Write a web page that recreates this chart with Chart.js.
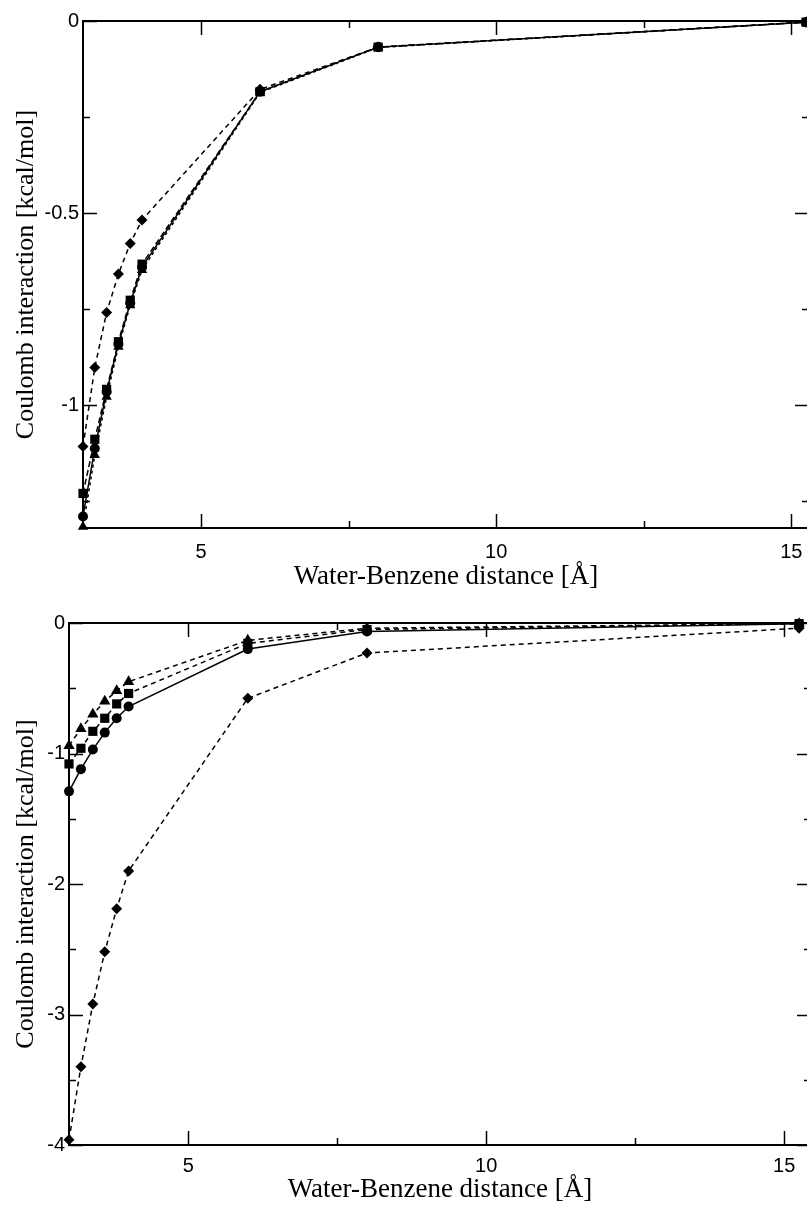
<!DOCTYPE html>
<html>
<head>
<meta charset="utf-8">
<script src="https://cdn.jsdelivr.net/npm/chart.js@4.4.1/dist/chart.umd.min.js"></script>
<style>
  html, body { margin: 0; padding: 0; background: #fff; overflow: hidden; }
  .panel { position: absolute; left: 0; }
</style>
</head>
<body>
<canvas id="topChart" class="panel" width="820" height="600" style="top:0"></canvas>
<canvas id="bottomChart" class="panel" width="820" height="607" style="top:600px"></canvas>
<script>
// water-benzene separation (Å)
const distance = [3.0, 3.2, 3.4, 3.6, 3.8, 4.0, 6, 8, 15.25];

// upper panel: Coulomb interaction (kcal/mol)
const topCircles   = [-1.290, -1.113, -0.965, -0.841, -0.735, -0.641, -0.184, -0.068, -0.003];
const topSquares   = [-1.230, -1.089, -0.959, -0.835, -0.727, -0.633, -0.184, -0.068, -0.003];
const topTriangles = [-1.317, -1.130, -0.978, -0.848, -0.740, -0.648, -0.186, -0.069, -0.003];
const topDiamonds  = [-1.108, -0.902, -0.759, -0.659, -0.579, -0.518, -0.178, -0.068, -0.003];

// lower panel
const botCircles   = [-1.29, -1.12, -0.97, -0.84, -0.73, -0.64, -0.20, -0.065, -0.005];
const botSquares   = [-1.08, -0.96, -0.83, -0.73, -0.62, -0.54, -0.156, -0.05, -0.005];
const botTriangles = [-0.94, -0.81, -0.70, -0.60, -0.52, -0.45, -0.133, -0.04, -0.005];
const botDiamonds  = [-3.96, -3.40, -2.92, -2.52, -2.19, -1.90, -0.577, -0.23, -0.04];

// tick marks
const xMajor = [5, 10, 15];
const xMinor = [7.5, 12.5];
const topYMajor = [0, -0.5, -1];
const topYMinor = [-0.25, -0.75, -1.25];
const botYMajor = [0, -1, -2, -3, -4];
const botYMinor = [-0.5, -1.5, -2.5, -3.5];

const xTitle = 'Water-Benzene distance [Å]';
const yTitle = 'Coulomb interaction [kcal/mol]';

// closed frame with inward ticks on all four sides
const frameTicks = {
  id: 'frameTicks',
  afterDatasetsDraw(chart, args, opts) {
    const { ctx, chartArea: a } = chart;
    const x = chart.scales.x, y = chart.scales.y;
    ctx.save();
    ctx.strokeStyle = '#000';
    ctx.lineWidth = 2;
    ctx.strokeRect(a.left, a.top, a.right - a.left, a.bottom - a.top);
    ctx.lineWidth = 1.5;
    ctx.beginPath();
    const xt = (v, len) => {
      const p = Math.round(x.getPixelForValue(v)) + 0.5;
      ctx.moveTo(p, a.bottom); ctx.lineTo(p, a.bottom - len);
      ctx.moveTo(p, a.top); ctx.lineTo(p, a.top + len);
    };
    const yt = (v, len) => {
      const p = Math.round(y.getPixelForValue(v)) + 0.5;
      ctx.moveTo(a.left, p); ctx.lineTo(a.left + len, p);
      ctx.moveTo(a.right, p); ctx.lineTo(a.right - len, p);
    };
    opts.xMajor.forEach(v => xt(v, 14));
    opts.xMinor.forEach(v => xt(v, 7));
    opts.yMajor.forEach(v => yt(v, 14));
    opts.yMinor.forEach(v => yt(v, 7));
    ctx.stroke();
    ctx.restore();
  }
};

function series(values, style, radius, dash) {
  return {
    data: values.map((v, i) => ({ x: distance[i], y: v })),
    borderColor: '#000',
    backgroundColor: '#000',
    borderWidth: 1.5,
    borderDash: dash,
    pointStyle: style,
    pointRadius: radius,
    pointBorderWidth: 0,
    pointBackgroundColor: '#000',
    tension: 0,
    clip: false
  };
}

function makeChart(id, cfg) {
  return new Chart(document.getElementById(id), {
    type: 'line',
    data: { datasets: cfg.datasets },
    options: {
      responsive: false,
      animation: false,
      devicePixelRatio: 1,
      layout: { padding: cfg.padding },
      plugins: {
        legend: { display: false },
        tooltip: { enabled: false },
        frameTicks: { xMajor: xMajor, xMinor: xMinor, yMajor: cfg.yMajor, yMinor: cfg.yMinor }
      },
      scales: {
        x: {
          type: 'linear',
          min: 3,
          max: cfg.xMax,
          grid: { display: false, drawTicks: false },
          border: { display: false },
          afterBuildTicks: s => { s.ticks = xMajor.map(v => ({ value: v })); },
          afterFit: s => { s.height = cfg.xHeight; },
          ticks: { color: '#000', padding: cfg.xTickPad, maxRotation: 0,
                   font: { family: 'Liberation Sans', size: 20 } },
          title: { display: true, text: xTitle, color: '#000',
                   font: { family: 'Liberation Serif', size: 27 },
                   padding: { top: 0, bottom: cfg.xTitlePad } }
        },
        y: {
          type: 'linear',
          min: cfg.yMin,
          max: 0,
          grid: { display: false, drawTicks: false },
          border: { display: false },
          afterBuildTicks: s => { s.ticks = cfg.yMajor.map(v => ({ value: v })); },
          afterFit: s => { s.width = cfg.yWidth; },
          ticks: { color: '#000', padding: 4,
                   font: { family: 'Liberation Sans', size: 20 },
                   callback: v => String(v) },
          title: { display: true, text: yTitle, color: '#000',
                   font: { family: 'Liberation Serif', size: 26 },
                   padding: { top: 11, bottom: 0 } }
        }
      }
    },
    plugins: [frameTicks]
  });
}

makeChart('topChart', {
  datasets: [
    series(topCircles, 'circle', 5, []),
    series(topSquares, 'rect', 6.5, [6, 3]),
    series(topTriangles, 'triangle', 6, [3, 3]),
    series(topDiamonds, 'rectRot', 5.5, [5, 4])
  ],
  padding: { left: 0, top: 21, right: 11, bottom: 0 },
  xMax: 15.3, yMin: -1.32,
  yMajor: topYMajor, yMinor: topYMinor,
  xHeight: 72, yWidth: 83, xTickPad: 12, xTitlePad: 7
});

makeChart('bottomChart', {
  datasets: [
    series(botCircles, 'circle', 5, []),
    series(botSquares, 'rect', 6.5, [5, 4]),
    series(botTriangles, 'triangle', 6.5, [5, 4]),
    series(botDiamonds, 'rectRot', 5.5, [5, 4])
  ],
  padding: { left: 0, top: 23, right: 9, bottom: 0 },
  xMax: 15.45, yMin: -4,
  yMajor: botYMajor, yMinor: botYMinor,
  xHeight: 62, yWidth: 69, xTickPad: 9, xTitlePad: 1
});
</script>
</body>
</html>
